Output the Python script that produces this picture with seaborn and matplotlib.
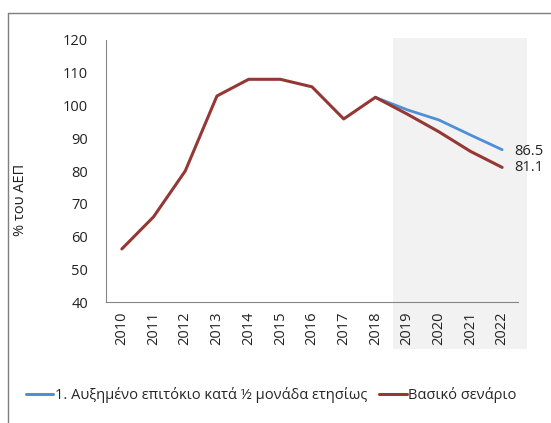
import numpy as np
import pandas as pd
import matplotlib
matplotlib.use("Agg")
import matplotlib.pyplot as plt
from matplotlib.patches import Rectangle
from matplotlib.lines import Line2D
import seaborn as sns

# Data
years = list(range(2010, 2023))
baseline = [56.2, 66.0, 80.0, 102.9, 108.0, 108.0, 105.7, 95.9, 102.5, 97.4, 92.0, 86.0, 81.1]
shock_years = list(range(2018, 2023))
shock = [102.5, 98.7, 95.6, 91.0, 86.5]

name_shock = "1. Αυξημένο επιτόκιο κατά ½ μονάδα ετησίως"
name_base = "Βασικό σενάριο"

df = pd.concat([
    pd.DataFrame({"year": shock_years, "value": shock, "series": name_shock}),
    pd.DataFrame({"year": years, "value": baseline, "series": name_base}),
])

sns.set_style("white")
plt.rcParams["font.family"] = ["Open Sans", "DejaVu Sans"]

blue = "#4F8FD8"
red = "#953735"
grey = "#868686"
txt = "#222222"

fig = plt.figure(figsize=(5.51, 4.23), dpi=100)
ax = fig.add_axes([106 / 551, 1 - 302 / 423, 412 / 551, 262 / 423])
ax.set_facecolor("none")
ax.set_zorder(2)

# shaded forecast area (sits behind the axes)
fig.patches.append(Rectangle((393 / 551, 1 - 349 / 423), 134 / 551, 311 / 423,
                             transform=fig.transFigure, facecolor="#f2f2f2",
                             edgecolor="none", zorder=0))
# outer chart frame (top and left visible)
fig.add_artist(Line2D([8 / 551, 1], [1 - 13 / 423] * 2, transform=fig.transFigure,
                      color="#7f7f7f", lw=1.0))
fig.add_artist(Line2D([8 / 551] * 2, [0, 1 - 13 / 423], transform=fig.transFigure,
                      color="#7f7f7f", lw=1.0))

sns.lineplot(data=df, x="year", y="value", hue="series",
             palette={name_shock: blue, name_base: red}, ax=ax, legend=False)
for line, lw in zip(ax.lines, [2.0, 2.2]):
    line.set_linewidth(lw)
    line.set_solid_joinstyle("round")

ax.set_xlim(2009.5, 2022.5)
ax.set_ylim(40, 120)
ax.set_yticks(range(40, 121, 10))
ax.set_xticks(years)
ax.set_xticklabels([str(y) for y in years], rotation=90)
ax.set_xticks(np.arange(2009.5, 2023, 1), minor=True)
ax.tick_params(axis="x", which="major", length=0, pad=7, labelsize=10.5, colors=txt)
ax.tick_params(axis="x", which="minor", length=5, width=0.8, color=grey, direction="out")
ax.tick_params(axis="y", length=5, width=0.8, color=grey, direction="out",
               labelsize=10.5, labelcolor=txt, pad=8)

for side in ["top", "right"]:
    ax.spines[side].set_visible(False)
for side in ["left", "bottom"]:
    ax.spines[side].set_color(grey)
    ax.spines[side].set_linewidth(0.8)

ax.set_xlabel("")
ax.set_ylabel("% του ΑΕΠ", fontsize=10.5, color=txt)
ax.yaxis.set_label_coords(-0.19, 0.39)

ax.annotate(f"{shock[-1]:.1f}", (shock_years[-1], shock[-1]), xytext=(9, -1),
            textcoords="offset points", va="center", ha="left", fontsize=10.5,
            color=txt, annotation_clip=False)
ax.annotate(f"{baseline[-1]:.1f}", (years[-1], baseline[-1]), xytext=(9, 0),
            textcoords="offset points", va="center", ha="left", fontsize=10.5,
            color=txt, annotation_clip=False)

handles = [Line2D([], [], color=blue, lw=2.2), Line2D([], [], color=red, lw=2.2)]
fig.legend(handles, [name_shock, name_base], loc="center", ncol=2,
           bbox_to_anchor=(0.492, 1 - 395 / 423), frameon=False, fontsize=10.5,
           handlelength=1.9, handletextpad=0.1, columnspacing=0.8)

fig.savefig("out.png", dpi=100)
